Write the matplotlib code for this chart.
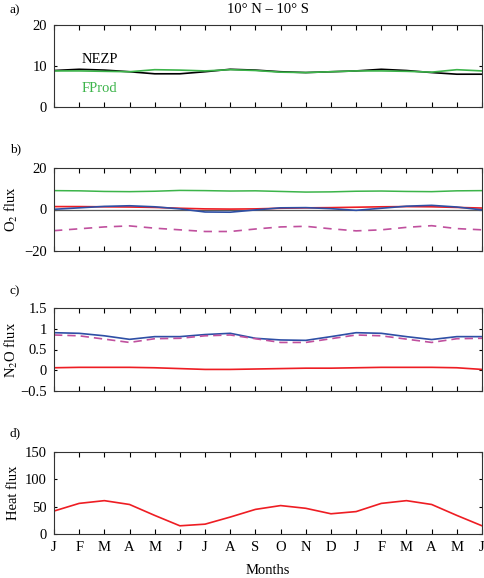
import matplotlib as mpl
mpl.use('Agg')
import matplotlib.pyplot as plt
import numpy as np

plt.rcParams['font.family'] = ['Liberation Serif', 'DejaVu Serif']
plt.rcParams['mathtext.fontset'] = 'stix'
plt.rcParams['font.size'] = 10.5

months = ['J', 'F', 'M', 'A', 'M', 'J', 'J', 'A', 'S', 'O', 'N', 'D',
          'J', 'F', 'M', 'A', 'M', 'J']

# a) production
nezp = [8.9, 9.2, 9.0, 8.6, 8.1, 8.1, 8.6, 9.2, 9.0, 8.6, 8.4, 8.6,
        8.8, 9.2, 8.9, 8.4, 8.0, 8.0]
fprod = [8.8, 8.8, 8.7, 8.6, 9.1, 9.0, 8.8, 9.1, 8.9, 8.5, 8.4, 8.6,
         8.8, 8.8, 8.7, 8.5, 9.1, 8.8]

# b) O2 flux
o2_green = [9.1, 9.0, 8.7, 8.6, 8.8, 9.2, 9.1, 8.9, 9.0, 8.7, 8.4, 8.5,
            8.8, 8.9, 8.7, 8.6, 9.0, 9.1]
o2_red = [1.4, 1.4, 1.3, 1.2, 1.0, 0.6, 0.3, 0.2, 0.3, 0.6, 0.8, 0.9,
          1.1, 1.3, 1.4, 1.3, 1.0, 0.7]
o2_blue = [0.1, 0.8, 1.5, 1.8, 1.3, 0.3, -1.2, -1.3, -0.2, 0.8, 0.9, 0.4,
           -0.4, 0.6, 1.6, 2.0, 1.2, -0.2]
o2_dash = [-10.2, -9.3, -8.4, -7.9, -9.0, -9.8, -10.6, -10.6, -9.4, -8.4, -8.1, -9.3,
           -10.3, -9.8, -8.6, -7.8, -9.2, -9.8]

# c) N2O flux
n2o_blue = [0.905, 0.89, 0.83, 0.745, 0.81, 0.81, 0.86, 0.89, 0.77, 0.73, 0.72, 0.81,
            0.905, 0.89, 0.81, 0.74, 0.81, 0.81]
n2o_dash = [0.85, 0.83, 0.75, 0.67, 0.76, 0.77, 0.83, 0.85, 0.76, 0.67, 0.67, 0.76,
            0.85, 0.83, 0.75, 0.67, 0.76, 0.77]
n2o_red = [0.06, 0.07, 0.07, 0.07, 0.06, 0.04, 0.02, 0.02, 0.03, 0.04, 0.05, 0.05,
           0.06, 0.07, 0.07, 0.07, 0.06, 0.02]

# d) heat flux
heat = [42, 56, 61, 54, 34, 15, 18, 31, 45, 52, 47, 37, 41, 56, 61, 54, 34, 15]

green = '#3cb44a'
red = '#ee1d23'
blue = '#2e4fa5'
magenta = '#c0509e'

x = np.arange(len(months))

fig = plt.figure(figsize=(4.85, 5.78), dpi=100)
H = 578.0
def mkax(top, bot):
    return fig.add_axes([54 / 485.0, 1 - bot / H, 428 / 485.0, (bot - top) / H])

ax1 = mkax(25, 107)
ax2 = mkax(168, 251)
ax3 = mkax(308, 391)
ax4 = mkax(452, 534)

ax1.plot(x, nezp, color='k', lw=1.2)
ax1.plot(x, fprod, color=green, lw=1.2)
ax1.text(1.1, 11.7, 'NEZP', color='k', va='center', ha='left')
ax1.text(1.1, 4.6, 'FProd', color=green, va='center', ha='left')
ax1.set_ylim(0, 20)
ax1.set_yticks([0, 10, 20])

ax2.axhline(0, color='0.35', lw=0.9)
ax2.plot(x, o2_green, color=green, lw=1.1)
ax2.plot(x, o2_red, color=red, lw=1.2)
ax2.plot(x, o2_blue, color=blue, lw=1.2)
ax2.plot(x, o2_dash, color=magenta, lw=1.2, ls=(0, (5, 4)))
ax2.set_ylim(-20, 20)
ax2.set_yticks([-20, 0, 20])
ax2.set_ylabel('O$_2$ flux')

ax3.plot(x, n2o_blue, color=blue, lw=1.2)
ax3.plot(x, n2o_dash, color=magenta, lw=1.2, ls=(0, (5, 3)))
ax3.plot(x, n2o_red, color=red, lw=1.2)
ax3.set_ylim(-0.5, 1.5)
ax3.set_yticks([-0.5, 0, 0.5, 1, 1.5])
ax3.set_yticklabels(['\u22120.5', '0', '0.5', '1', '1.5'])
ax3.set_ylabel('N$_2$O flux')

ax4.plot(x, heat, color=red, lw=1.2)
ax4.set_ylim(0, 150)
ax4.set_yticks([0, 50, 100, 150])
ax4.set_ylabel('Heat flux')
ax4.set_xlabel('Months')
ax4.xaxis.set_label_coords(0.5, -0.36)

for ax in (ax1, ax2, ax3, ax4):
    ax.set_xlim(0, 17)
    ax.set_xticks(x)
    ax.tick_params(direction='in', top=True, right=True, length=3.5, width=0.8,
                   labelsize=10.5, pad=5)
    ax.tick_params(axis='y', length=2.5)
    for s in ax.spines.values():
        s.set_linewidth(0.8)
        s.set_color('0.2')
    ax.yaxis.set_label_coords(-0.08, 0.5)
    if ax is not ax4:
        ax.set_xticklabels([])
ax4.set_xticklabels(months)

ax1.set_title('10\u00b0 N \u2013 10\u00b0 S', fontsize=10.5, pad=9)
fig.text(10 / 485.0, 1 - 10 / H, 'a)', fontsize=9.5, va='center')
fig.text(10 / 485.0, 1 - 149 / H, 'b)', fontsize=9.5, va='center')
fig.text(10 / 485.0, 1 - 291 / H, 'c)', fontsize=9.5, va='center')
fig.text(10 / 485.0, 1 - 433 / H, 'd)', fontsize=9.5, va='center')

fig.savefig('out.png', dpi=100)
